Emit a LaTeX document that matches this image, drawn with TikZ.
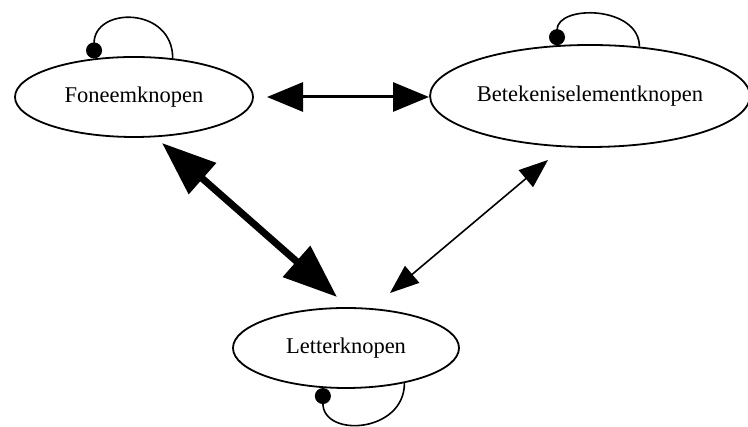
\documentclass[tikz,border=0pt]{standalone}
\usepackage{fontspec}
\setmainfont{Liberation Serif}
\usetikzlibrary{shapes.geometric,arrows.meta}
\begin{document}
\begin{tikzpicture}[x=1pt,y=1pt,
  knoop/.style={draw,ellipse,line width=1.8pt,inner sep=0pt,font=\fontsize{22.5}{26}\selectfont},
  lus/.style={line width=1.6pt,{Circle[length=16pt,width=16pt]}-},
  pijlh/.style={line width=3pt,{Triangle[length=36pt,width=29pt]}-{Triangle[length=36pt,width=29pt]}},
  pijldik/.style={line width=7pt,{Triangle[length=54pt,width=40pt]}-{Triangle[length=54pt,width=40pt]}},
  pijldun/.style={line width=1.6pt,{Triangle[length=29pt,width=22pt]}-{Triangle[length=29pt,width=22pt]}}]
\useasboundingbox (0,0) rectangle (748,427);
\node[knoop,minimum width=238pt,minimum height=80pt] (fon) at (134,330) {Foneemknopen};
\node[knoop,minimum width=312pt,minimum height=102pt] (bet) at (590,331) {Betekeniselementknopen};
\node[knoop,minimum width=226pt,minimum height=80pt] (let) at (346,79) {Letterknopen};
% loops
\draw[lus] (fon.136) .. controls +(0,52) and +(0,52) .. (fon.45);
\draw[lus] (bet.123) .. controls +(0,41) and +(0,41) .. (bet.45);
\draw[lus] (let.240) .. controls +(0,-50) and +(0,-50) .. (let.329);
% connectors
\coordinate (fonr) at (267,330);
\coordinate (betl) at (429,330);
\coordinate (fond) at (162,284);
\coordinate (letl) at (337,130);
\coordinate (betd) at (548,267);
\coordinate (letr) at (390,134);
\draw[pijlh] (fonr) -- (betl);
\draw[pijldik] (fond) -- (letl);
\draw[pijldun] (betd) -- (letr);
\end{tikzpicture}
\end{document}
